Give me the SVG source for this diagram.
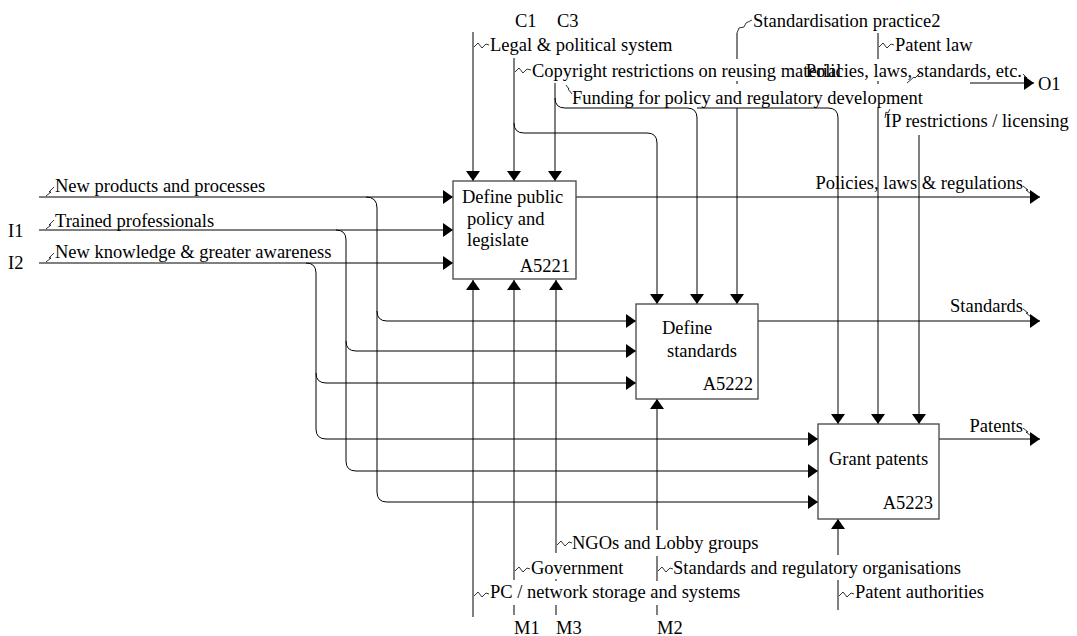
<svg xmlns="http://www.w3.org/2000/svg" width="1077" height="636" viewBox="0 0 1077 636">
<style>
text{font-family:"Liberation Serif","Times New Roman",serif;font-size:18.5px;fill:#000}
.ln{stroke:#000;stroke-width:1;fill:none}
.ar{stroke:#000;stroke-width:1;fill:none;marker-end:url(#arr)}
.sq{stroke:#000;stroke-width:0.8;fill:none}
.box{fill:#fff;stroke:#444;stroke-width:1.3}
.end{text-anchor:end}
</style>
<defs>
<marker id="arr" markerUnits="userSpaceOnUse" markerWidth="10" markerHeight="14" refX="10" refY="7" orient="auto" viewBox="0 0 10 14">
<path d="M0,0 L10,7 L0,14 z" fill="#000"/>
</marker>
</defs>
<rect width="1077" height="636" fill="#fff"/>
<g id="connectors">
<!-- inputs -->
<path class="ar" d="M39,197 H453"/>
<path class="ar" d="M366,197 Q377,197 377,208 V492 Q377,502 387,502 H818"/>
<path class="ar" d="M377,311 Q377,321 387,321 H636"/>
<path class="ar" d="M39,230 H453"/>
<path class="ar" d="M336,230 Q346,230 346,240 V461 Q346,471 356,471 H818"/>
<path class="ar" d="M346,341 Q346,351 356,351 H636"/>
<path class="ar" d="M39,263 H453"/>
<path class="ar" d="M306,263 Q316,263 316,273 V429 Q316,439 326,439 H818"/>
<path class="ar" d="M316,373 Q316,383 326,383 H636"/>
<!-- controls -->
<path class="ar" d="M473,32 V181"/>
<path class="ar" d="M514,58 V181"/>
<path class="ar" d="M514,123 Q514,133 524,133 H647 Q657,133 657,143 V304"/>
<path class="ar" d="M555,83 V181"/>
<path class="ar" d="M555,98 Q555,108 565,108 H687 Q697,108 697,118 V304"/>
<path class="ar" d="M697,108 H828 Q838,108 838,118 V424"/>
<path class="ln" d="M737,33 V59 M737,81 V84"/>
<path class="ar" d="M737,108 V304"/>
<path class="ln" d="M878,33 V59 M878,81 V84"/>
<path class="ar" d="M878,108 V424"/>
<path class="ar" d="M919,135 V424"/>
<!-- mechanisms -->
<path class="ar" d="M473,617 V280"/>
<path class="ln" d="M514,615 V605"/>
<path class="ar" d="M514,580 V280"/>
<path class="ln" d="M556,615 V605 M556,581 V579"/>
<path class="ar" d="M556,553 V280"/>
<path class="ln" d="M657,615 V605 M657,581 V556"/>
<path class="ar" d="M657,530 V399"/>
<path class="ln" d="M838,610 V580"/>
<path class="ar" d="M838,555 V519"/>
<!-- outputs -->
<path class="ar" d="M576,197 H1040"/>
<path class="ar" d="M758,321 H1040"/>
<path class="ar" d="M939,439 H1040"/>
<path class="ar" d="M970,83 H1034"/>
<!-- squiggles -->
<path class="sq" d="M46,196 l5,-4 l-2,0 l5,-5"/>
<path class="sq" d="M46,229 l5,-4 l-2,0 l5,-5"/>
<path class="sq" d="M46,262 l5,-4 l-2,0 l5,-5"/>
<path class="sq" d="M474,47 l4,-4 l4,5 l4,-4 l3,1"/>
<path class="sq" d="M515,72 l4,-4 l4,5 l4,-4 l4,1"/>
<path class="sq" d="M566,85 l3,4 l-1,0 l4,5"/>
<path class="sq" d="M737,33 L739,28 L744,27 L746,23 L752,20"/>
<path class="sq" d="M879,47 l4,-4 l4,5 l4,-4 l3,1"/>
<path class="sq" d="M885,118 L886,112 L888,113 L890,109"/>
<path class="sq" d="M907,83 L914,77 L915,78 L921,72"/>
<path class="sq" d="M1023,74 l4,4 l-2,0 l5,4"/>
<path class="sq" d="M1023,186 l5,4 l-2,0 l5,4"/>
<path class="sq" d="M1023,309 l5,4 l-2,0 l5,4"/>
<path class="sq" d="M1023,428 l5,4 l-2,0 l5,4"/>
<path class="sq" d="M557,545 l4,-4 l4,5 l4,-4 l3,1"/>
<path class="sq" d="M515,571 l4,-4 l4,5 l4,-4 l3,1"/>
<path class="sq" d="M474,596 l4,-4 l4,5 l4,-4 l3,1"/>
<path class="sq" d="M658,571 l4,-4 l4,5 l4,-4 l3,1"/>
<path class="sq" d="M839,596 l4,-4 l4,5 l4,-4 l3,1"/>
<!-- labels -->
<text x="55" y="192">New products and processes</text>
<text x="55" y="227">Trained professionals</text>
<text x="55" y="258">New knowledge &amp; greater awareness</text>
<text x="8" y="237">I1</text>
<text x="8" y="269">I2</text>
<text x="515" y="27">C1</text>
<text x="557" y="27">C3</text>
<text x="490" y="51">Legal &amp; political system</text>
<text x="532" y="77">Copyright restrictions on reusing material</text>
<text x="572" y="104">Funding for policy and regulatory development</text>
<text x="753" y="27">Standardisation practice2</text>
<text x="895" y="51">Patent law</text>
<text class="end" x="1022" y="77">Policies, laws, standards, etc.</text>
<text x="1038" y="90">O1</text>
<text x="885" y="127">IP restrictions / licensing</text>
<text class="end" x="1023" y="189">Policies, laws &amp; regulations</text>
<text class="end" x="1023" y="312">Standards</text>
<text class="end" x="1023" y="432">Patents</text>
<text x="572" y="549">NGOs and Lobby groups</text>
<text x="531" y="574">Government</text>
<text x="490" y="598">PC / network storage and systems</text>
<text x="673" y="574">Standards and regulatory organisations</text>
<text x="855" y="598">Patent authorities</text>
<text x="514" y="634">M1</text>
<text x="556" y="634">M3</text>
<text x="657" y="634">M2</text>
</g>
<g id="A5221">
<rect class="box" x="453" y="181" width="123" height="98"/>
<text x="462" y="203">Define public</text>
<text x="467" y="225">policy and</text>
<text x="467" y="246">legislate</text>
<text class="end" x="570" y="272">A5221</text>
</g>
<g id="A5222">
<rect class="box" x="636" y="304" width="122" height="95"/>
<text x="662" y="334">Define</text>
<text x="667" y="357">standards</text>
<text class="end" x="753" y="390">A5222</text>
</g>
<g id="A5223">
<rect class="box" x="818" y="424" width="121" height="95"/>
<text x="829" y="465">Grant patents</text>
<text class="end" x="933" y="509">A5223</text>
</g>
</svg>
